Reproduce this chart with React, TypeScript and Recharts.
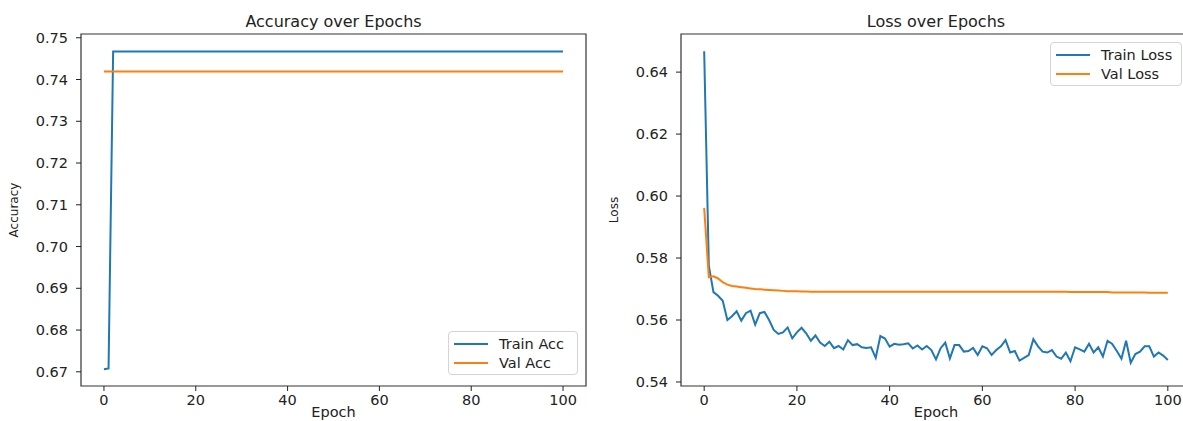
import React from "react";
import {
  LineChart,
  Line,
  XAxis,
  YAxis,
  Legend,
  Label,
  ReferenceArea,
} from "recharts";

const FONT = "'DejaVu Sans', sans-serif";
const BLUE = "#1f77b4";
const ORANGE = "#ff7f0e";
const INK = "#222222";

const xTicks = [0, 20, 40, 60, 80, 100];
const accTicks = [0.67, 0.68, 0.69, 0.7, 0.71, 0.72, 0.73, 0.74, 0.75];
const lossTicks = [0.54, 0.56, 0.58, 0.6, 0.62, 0.64];

// accuracy per epoch (0..100)
const trainAcc = [
  0.6706, 0.6708, 0.7467, 0.7467, 0.7467, 0.7467, 0.7467, 0.7467, 0.7467, 0.7467,
  0.7467, 0.7467, 0.7467, 0.7467, 0.7467, 0.7467, 0.7467, 0.7467, 0.7467, 0.7467,
  0.7467, 0.7467, 0.7467, 0.7467, 0.7467, 0.7467, 0.7467, 0.7467, 0.7467, 0.7467,
  0.7467, 0.7467, 0.7467, 0.7467, 0.7467, 0.7467, 0.7467, 0.7467, 0.7467, 0.7467,
  0.7467, 0.7467, 0.7467, 0.7467, 0.7467, 0.7467, 0.7467, 0.7467, 0.7467, 0.7467,
  0.7467, 0.7467, 0.7467, 0.7467, 0.7467, 0.7467, 0.7467, 0.7467, 0.7467, 0.7467,
  0.7467, 0.7467, 0.7467, 0.7467, 0.7467, 0.7467, 0.7467, 0.7467, 0.7467, 0.7467,
  0.7467, 0.7467, 0.7467, 0.7467, 0.7467, 0.7467, 0.7467, 0.7467, 0.7467, 0.7467,
  0.7467, 0.7467, 0.7467, 0.7467, 0.7467, 0.7467, 0.7467, 0.7467, 0.7467, 0.7467,
  0.7467, 0.7467, 0.7467, 0.7467, 0.7467, 0.7467, 0.7467, 0.7467, 0.7467, 0.7467,
  0.7467,
];

const valAcc = [
  0.7419, 0.7419, 0.7419, 0.7419, 0.7419, 0.7419, 0.7419, 0.7419, 0.7419, 0.7419,
  0.7419, 0.7419, 0.7419, 0.7419, 0.7419, 0.7419, 0.7419, 0.7419, 0.7419, 0.7419,
  0.7419, 0.7419, 0.7419, 0.7419, 0.7419, 0.7419, 0.7419, 0.7419, 0.7419, 0.7419,
  0.7419, 0.7419, 0.7419, 0.7419, 0.7419, 0.7419, 0.7419, 0.7419, 0.7419, 0.7419,
  0.7419, 0.7419, 0.7419, 0.7419, 0.7419, 0.7419, 0.7419, 0.7419, 0.7419, 0.7419,
  0.7419, 0.7419, 0.7419, 0.7419, 0.7419, 0.7419, 0.7419, 0.7419, 0.7419, 0.7419,
  0.7419, 0.7419, 0.7419, 0.7419, 0.7419, 0.7419, 0.7419, 0.7419, 0.7419, 0.7419,
  0.7419, 0.7419, 0.7419, 0.7419, 0.7419, 0.7419, 0.7419, 0.7419, 0.7419, 0.7419,
  0.7419, 0.7419, 0.7419, 0.7419, 0.7419, 0.7419, 0.7419, 0.7419, 0.7419, 0.7419,
  0.7419, 0.7419, 0.7419, 0.7419, 0.7419, 0.7419, 0.7419, 0.7419, 0.7419, 0.7419,
  0.7419,
];

// loss per epoch (0..100)
const trainLoss = [
  0.6467, 0.5775, 0.569, 0.5678, 0.5662, 0.56, 0.5612, 0.5628, 0.5598, 0.5622,
  0.563, 0.5585, 0.5622, 0.5626, 0.56, 0.5568, 0.5555, 0.556, 0.5576, 0.5541,
  0.556, 0.5575, 0.5557, 0.5533, 0.555, 0.5527, 0.5516, 0.553, 0.5509, 0.5516,
  0.5505, 0.5535, 0.5519, 0.5522, 0.5512, 0.551, 0.5512, 0.5478, 0.5548, 0.554,
  0.5514, 0.5523, 0.552, 0.5522, 0.5525, 0.5508, 0.5518, 0.5505, 0.5516, 0.5503,
  0.5473, 0.5509, 0.5527, 0.5476, 0.5519, 0.5519, 0.5498, 0.55, 0.551, 0.5487,
  0.5515, 0.5509, 0.5487, 0.5503, 0.5515, 0.5535, 0.5495, 0.55, 0.5469, 0.5478,
  0.5487, 0.5538, 0.5515, 0.5498, 0.5495, 0.5503, 0.5482, 0.5475, 0.5495, 0.5467,
  0.5512, 0.5505, 0.5498, 0.5523, 0.5495, 0.5512, 0.5482, 0.5533, 0.5523, 0.55,
  0.5475, 0.5533, 0.5462, 0.549, 0.5498, 0.5515, 0.5515, 0.5482, 0.5495, 0.5485,
  0.5471,
];

const valLoss = [
  0.5962, 0.5738, 0.5741, 0.5734, 0.5722, 0.5714, 0.571, 0.5708, 0.5706, 0.5704,
  0.5702, 0.57, 0.5699, 0.5698, 0.5697, 0.5696, 0.5695, 0.5694, 0.5693, 0.5693,
  0.5693, 0.5692, 0.5692, 0.5691, 0.5691, 0.5691, 0.5691, 0.5691, 0.5691, 0.5691,
  0.5691, 0.5691, 0.5691, 0.5691, 0.5691, 0.5691, 0.5691, 0.5691, 0.5691, 0.5691,
  0.5691, 0.5691, 0.5691, 0.5691, 0.5691, 0.5691, 0.5691, 0.5691, 0.5691, 0.5691,
  0.5691, 0.5691, 0.5691, 0.5691, 0.5691, 0.5691, 0.5691, 0.5691, 0.5691, 0.5691,
  0.5691, 0.5691, 0.5691, 0.5691, 0.5691, 0.5691, 0.5691, 0.5691, 0.5691, 0.5691,
  0.5691, 0.5691, 0.5691, 0.5691, 0.5691, 0.5691, 0.5691, 0.5691, 0.5691, 0.569,
  0.569, 0.569, 0.569, 0.569, 0.569, 0.569, 0.569, 0.569, 0.5689, 0.5689,
  0.5689, 0.5689, 0.5689, 0.5689, 0.5689, 0.5689, 0.5688, 0.5688, 0.5688, 0.5688,
  0.5688,
];

const accData = trainAcc.map((v, i) => ({ epoch: i, train: v, val: valAcc[i] }));
const lossData = trainLoss.map((v, i) => ({ epoch: i, train: v, val: valLoss[i] }));

const tickStyle = { fill: INK, fontSize: 14.5, fontFamily: FONT };

const LegendBox = ({ payload, width }: any) => (
  <div
    style={{
      width,
      boxSizing: "border-box",
      border: "1px solid #d4d4d4",
      borderRadius: 4,
      background: "rgba(255,255,255,0.85)",
      padding: "2px 5px",
      fontFamily: FONT,
      fontSize: 14.5,
      color: INK,
      whiteSpace: "nowrap",
    }}
  >
    {(payload || []).map((p: any) => (
      <div key={p.value} style={{ display: "flex", alignItems: "center", height: 19 }}>
        <svg width={34} height={4} style={{ marginRight: 11, flexShrink: 0 }}>
          <line x1={0} y1={2} x2={34} y2={2} stroke={p.color} strokeWidth={2} />
        </svg>
        <span>{p.value}</span>
      </div>
    ))}
  </div>
);

const yLabel = (text: string, x: number) => (props: any) => {
  const vb = props.viewBox;
  const cx = vb.x + x;
  const cy = vb.y + vb.height / 2;
  return (
    <text
      x={cx}
      y={cy}
      transform={`rotate(-90 ${cx} ${cy})`}
      textAnchor="middle"
      fill={INK}
      fontSize={12}
      fontFamily={FONT}
    >
      {text}
    </text>
  );
};

interface PanelProps {
  data: { epoch: number; train: number; val: number }[];
  left: number;
  rightMargin: number;
  yDomain: [number, number];
  yTicks: number[];
  title: string;
  yName: string;
  trainName: string;
  valName: string;
  legendLeft: number;
  legendTop: number;
  legendWidth: number;
}

const Panel = (p: PanelProps) => (
  <div style={{ position: "absolute", left: p.left, top: 0 }}>
    <LineChart
      width={600}
      height={440}
      data={p.data}
      margin={{ top: 34, right: p.rightMargin, bottom: 0, left: 0 }}
    >
      <XAxis
        dataKey="epoch"
        type="number"
        domain={[-5, 105]}
        ticks={xTicks}
        allowDataOverflow
        interval={0}
        height={54}
        axisLine={false}
        tickLine={{ stroke: INK }}
        tickSize={5}
        tickMargin={4}
        tick={tickStyle}
      >
        <Label
          value="Epoch"
          position="insideTop"
          offset={21}
          fill={INK}
          fontSize={14.5}
          fontFamily={FONT}
        />
      </XAxis>
      <YAxis
        type="number"
        domain={p.yDomain}
        ticks={p.yTicks}
        allowDataOverflow
        interval={0}
        width={81}
        axisLine={false}
        tickLine={{ stroke: INK }}
        tickSize={5}
        tickMargin={8}
        tick={tickStyle}
        tickFormatter={(v: number) => v.toFixed(2)}
      >
        <Label content={yLabel(p.yName, 18)} />
      </YAxis>
      <ReferenceArea
        x1={-5}
        x2={105}
        y1={p.yDomain[0]}
        y2={p.yDomain[1]}
        fill="none"
        stroke="#333"
        strokeWidth={1.2}
        ifOverflow="visible"
        label={{
          value: p.title,
          position: "top",
          offset: 7,
          fill: INK,
          fontSize: 16,
          fontFamily: FONT,
        }}
      />
      <Line
        type="linear"
        dataKey="train"
        name={p.trainName}
        stroke={BLUE}
        strokeWidth={2}
        dot={false}
        isAnimationActive={false}
      />
      <Line
        type="linear"
        dataKey="val"
        name={p.valName}
        stroke={ORANGE}
        strokeWidth={2}
        dot={false}
        isAnimationActive={false}
      />
      <Legend
        layout="horizontal"
        verticalAlign="middle"
        align="center"
        wrapperStyle={{ left: p.legendLeft, top: p.legendTop, width: p.legendWidth }}
        content={(props: any) => <LegendBox {...props} width={p.legendWidth} />}
      />
    </LineChart>
  </div>
);

export default function App() {
  return (
    <div
      style={{
        position: "absolute",
        left: 0,
        top: 0,
        width: 1183,
        height: 421,
        overflow: "hidden",
        background: "#fff",
      }}
    >
      <Panel
        data={accData}
        left={0}
        rightMargin={14}
        yDomain={[0.6666, 0.7509]}
        yTicks={accTicks}
        title="Accuracy over Epochs"
        yName="Accuracy"
        trainName="Train Acc"
        valName="Val Acc"
        legendLeft={448}
        legendTop={331}
        legendWidth={130}
      />
      <Panel
        data={lossData}
        left={600}
        rightMargin={9}
        yDomain={[0.5387, 0.6523]}
        yTicks={lossTicks}
        title="Loss over Epochs"
        yName="Loss"
        trainName="Train Loss"
        valName="Val Loss"
        legendLeft={450}
        legendTop={42}
        legendWidth={132}
      />
    </div>
  );
}
